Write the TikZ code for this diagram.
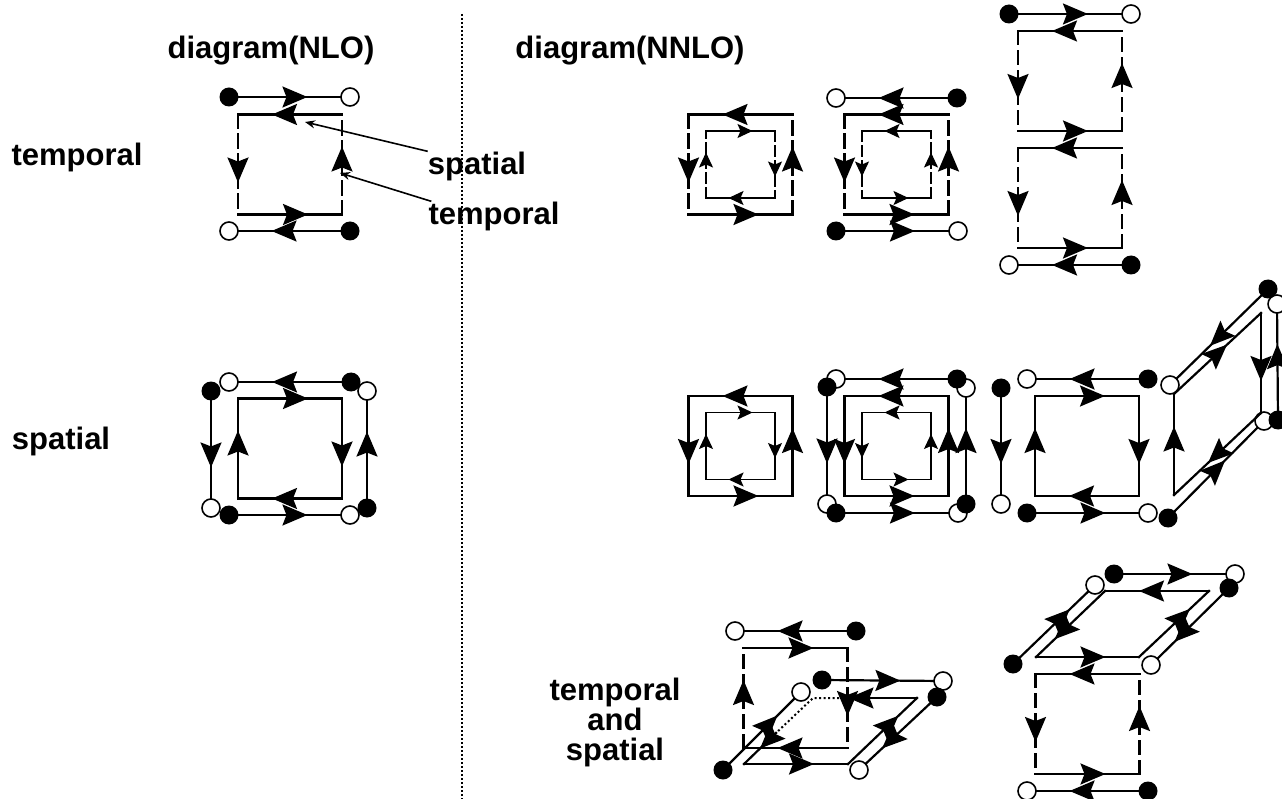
\documentclass[tikz,border=0pt]{standalone}
\usepackage{fontspec}
\setmainfont{Liberation Sans}
\usetikzlibrary{arrows.meta,decorations.markings}
\tikzset{
  x=1pt,y=-1pt,
  >={Stealth[length=25pt,width=21pt,inset=4pt]},
  mid/.style={postaction={decorate,decoration={markings,
    mark=at position 0.5*\pgfdecoratedpathlength+#1 with {\arrow{>}}}}},
  wire/.style={line width=2.2pt,line cap=rect},
  link/.style={wire,mid=#1},
  link/.default=18pt,
  tlink/.style={link,dash pattern=on 13pt off 7pt},
  ilink/.style={line width=1.5pt,line cap=rect,mid=12pt,
    >={Stealth[length=15pt,width=14pt,inset=3pt]}},
  itlink/.style={ilink,dash pattern=on 10pt off 5pt},
  bsite/.style={circle,fill=black,inner sep=0pt,minimum size=19pt},
  wsite/.style={circle,draw=black,line width=1.6pt,fill=white,inner sep=0pt,minimum size=18pt},
  lab/.style={font=\fontsize{31}{30}\selectfont\bfseries,inner sep=0pt,align=center},
  note/.style={line width=1.6pt,-{Stealth[length=10pt,width=8pt]}},
  % one plaquette, #1 wide and #2 high, #3 on the spatial and #4 on the temporal edges
  pics/plaq/.style n args={4}{code={
    \coordinate (-tl) at ({-#1/2},{-#2/2});
    \coordinate (-tr) at ({#1/2},{-#2/2});
    \coordinate (-bl) at ({-#1/2},{#2/2});
    \coordinate (-br) at ({#1/2},{#2/2});
    \draw[#3] (-tr) -- (-tl);
    \draw[#4] (-tl) -- (-bl);
    \draw[#3] (-bl) -- (-br);
    \draw[#4] (-br) -- (-tr);
  }},
}
\begin{document}
\begin{tikzpicture}
  \useasboundingbox (0,0) rectangle (1282,799);
  % labels
  \node[lab] (nlo) at (271,51) {diagram(NLO)};
  \node[lab] (nnlo) at (630,51) {diagram(NNLO)};
  \node[lab] (rowt) at (77,157) {temporal};
  \node[lab] (rows) at (61,441) {spatial};
  \node[lab] (rowts) at (615,722) {temporal\\and\\spatial};
  \node[lab] (lsp) at (477,166) {spatial};
  \node[lab] (ltm) at (494,216) {temporal};
  \coordinate (divtop) at (462,14);
  \coordinate (divbot) at (462,799);
  \draw[line width=1.2pt,dash pattern=on 2pt off 2pt] (divtop) -- (divbot);
  \coordinate (tosp) at (305,122);
  \coordinate (totm) at (340,173);
  \draw[note] (lsp.north west) -- (tosp);
  \draw[note] ([xshift=3pt]ltm.north west) -- (totm);
  % sites: every link runs from b\i to w\i
  \foreach \x/\y [count=\i] in {350/97,229/231,229/382,211/508,350/515,367/391,836/98,958/231,
    1131/14,1009/265,836/379,827/504,958/513,966/388,1001/504,1027/379,1148/513,1170/385,
    1264/421,1277/304,735/631,943/681,801/692,859/770,1235/574,1095/585,1151/665,1027/791}
    \node[wsite] (w\i) at (\x,\y) {};
  \foreach \x/\y [count=\i] in {229/97,350/231,351/382,211/391,229/515,367/508,957/98,836/231,
    1009/14,1131/265,957/379,827/387,836/513,966/504,1001/388,1148/379,1027/513,1268/289,
    1168/518,1278/420,856/631,822/680,723/770,937/697,1114/574,1013/664,1229/588,1148/791}
    \node[bsite] (b\i) at (\x,\y) {};
  \foreach \i in {1,...,17,20,21,22,25,28} \draw[link] (b\i) -- (w\i);
  \foreach \i in {18,19} \draw[link=13pt] (b\i) -- (w\i);
  \foreach \i in {23,24,26,27} \draw[link=22pt] (b\i) -- (w\i);
  % plaquettes
  \foreach \x/\y/\s/\v [count=\i] in {290/164.5/1/tlink,290/448.5/-1/link,740.5/164.5/1/tlink,
    896.5/164.5/1/tlink,1070/81/1/tlink,1070/198/1/tlink,740.5/446/1/link,896.5/446/1/link,
    1087/446/-1/link,795.5/698/-1/tlink,1087.5/724/1/tlink}
    \pic[xscale=\s] (sq\i) at (\x,\y) {plaq={104}{100}{link}{\v}};
  \foreach \x/\y/\s/\v [count=\i] in {740.5/164.5/-1/itlink,896.5/164.5/1/itlink,
    740.5/446/-1/ilink,896.5/446/1/ilink}
    \pic[xscale=\s] (in\i) at (\x,\y) {plaq={69}{67}{ilink}{\v}};
  % slanted plaquettes
  \foreach \n/\x/\y in {p1/1174/394,p2/1261/313,p3/1261/413,p4/1174/495,
    q1/744/764,q2/848/764,q3/917/698,q4/848/698,q5/813/698,q6/776/733,
    r1/1036/657,r2/1139/657,r3/1209/591,r4/1105/591}
    \coordinate (\n) at (\x,\y);
  \foreach \a/\b/\o in {p1/p2/13pt,p2/p3/18pt,p3/p4/13pt,p4/p1/18pt,
    q1/q2/18pt,q2/q3/22pt,q3/q4/34pt,q6/q1/0pt,
    r1/r2/18pt,r2/r3/22pt,r3/r4/18pt,r4/r1/22pt}
    \draw[link=\o] (\a) -- (\b);
  \draw[line width=2pt,dash pattern=on 2pt off 2.5pt] (q4) -- (q5) -- (q6);
\end{tikzpicture}
\end{document}
